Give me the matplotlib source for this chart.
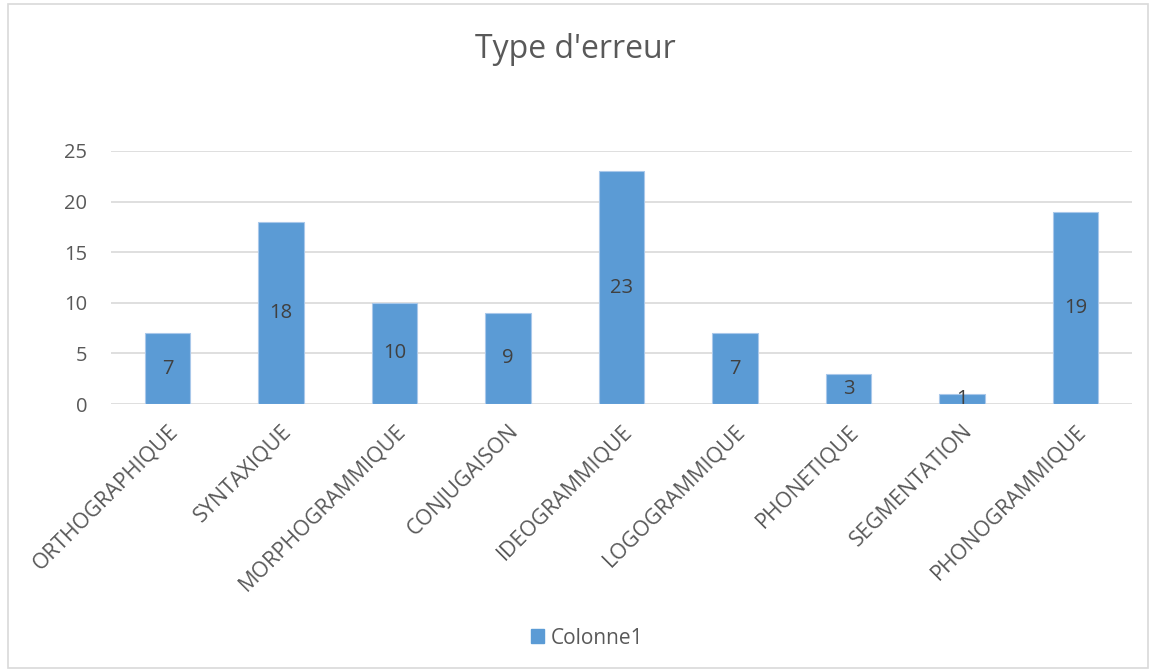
import matplotlib
matplotlib.use("Agg")
import matplotlib.pyplot as plt
from matplotlib.patches import Rectangle, Patch

# Données
categories = ["ORTHOGRAPHIQUE", "SYNTAXIQUE", "MORPHOGRAMMIQUE", "CONJUGAISON",
              "IDEOGRAMMIQUE", "LOGOGRAMMIQUE", "PHONETIQUE", "SEGMENTATION",
              "PHONOGRAMMIQUE"]
valeurs = [7, 18, 10, 9, 23, 7, 3, 1, 19]
yticks = [0, 5, 10, 15, 20, 25]

plt.rcParams['font.family'] = ['Open Sans', 'DejaVu Sans']
gris = "#595959"
bleu = "#5b9bd5"

fig = plt.figure(figsize=(11.51, 6.72), dpi=100)
ax = fig.add_axes([111/1151, 1-404/672, 1021/1151, 253/672])

# cadre du graphique
fig.patches.append(Rectangle((8/1151, 4/672), 1140/1151, 664/672, transform=fig.transFigure,
                             fill=False, edgecolor="#d9d9d9", linewidth=1.2))

x = range(len(categories))
barres = ax.bar(x, valeurs, width=0.4, color=bleu, edgecolor="#a9c8ea", linewidth=0.8, zorder=3)
for b, v in zip(barres, valeurs):
    ax.text(b.get_x() + b.get_width()/2, v/2, str(v), ha="center", va="center",
            fontsize=14.5, color="#404040", zorder=4)

ax.set_xlim(-0.5, len(categories) - 0.5)
ax.set_ylim(0, 25)
ax.set_yticks(yticks)
ax.set_yticklabels([str(t) for t in yticks], fontsize=14.5)
ax.set_xticks(list(x))
ax.set_xticklabels(categories, rotation=45, ha="right", rotation_mode="anchor", fontsize=15.5)
ax.tick_params(axis="both", length=0, labelcolor=gris)
ax.tick_params(axis="y", pad=17)
ax.tick_params(axis="x", pad=12)
ax.grid(axis="y", color="#d9d9d9", linewidth=1.2, zorder=0)
for s in ax.spines.values():
    s.set_visible(False)

fig.text(0.5, 1-50/672, "Type d'erreur", ha="center", va="center", fontsize=23, color=gris)

fig.legend(handles=[Patch(color=bleu, label="Colonne1")], loc="center",
           bbox_to_anchor=(0.51, 1-638/672), frameon=False, fontsize=15,
           handlelength=0.65, handleheight=0.65, handletextpad=0.3, labelcolor=gris)

fig.savefig("out.png", dpi=100)
